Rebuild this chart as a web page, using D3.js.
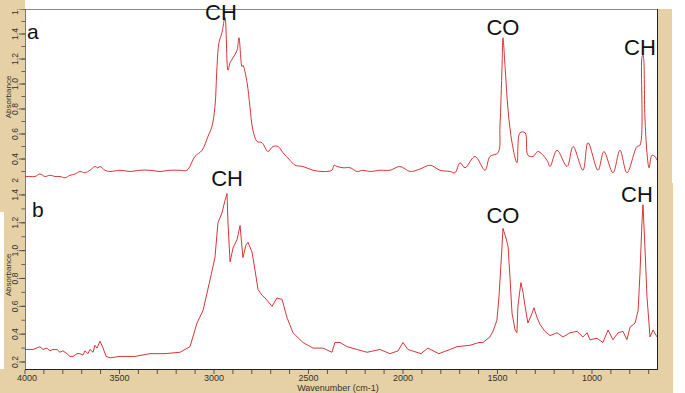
<!DOCTYPE html>
<html>
<head>
<meta charset="utf-8">
<script src="https://cdn.jsdelivr.net/npm/d3@7"></script>
<style>
html,body{margin:0;padding:0;background:#fff;}
svg{display:block;font-family:"Liberation Sans",Arial,sans-serif;}
</style>
</head>
<body>
<svg id="chart" width="685" height="393"></svg>
<script>
// ---- data (wavenumber cm-1, absorbance) ----
const wnA = [4000,3974,3947,3921,3894,3868,3841,3815,3788,3762,3735,3709,3683,3656,3630,3614,3603,3577,3550,3497,3444,3392,3339,3286,3233,3180,3143,3101,3063,3032,3011,2995,2984,2974,2958,2942,2926,2915,2899,2878,2868,2852,2847,2825,2810,2794,2772,2746,2714,2688,2661,2635,2598,2571,2529,2476,2423,2376,2365,2349,2317,2280,2243,2212,2175,2122,2069,2016,1962,1910,1857,1804,1751,1725,1698,1672,1619,1566,1540,1497,1487,1476,1471,1460,1444,1423,1397,1381,1354,1339,1312,1286,1238,1222,1185,1132,1100,1048,1021,968,937,889,852,815,762,746,735,730,720,709,698,683,667,656];
const absA = [0.26,0.26,0.26,0.28,0.26,0.27,0.26,0.26,0.25,0.27,0.28,0.30,0.29,0.31,0.34,0.33,0.34,0.31,0.30,0.31,0.30,0.31,0.31,0.30,0.31,0.31,0.31,0.42,0.47,0.58,0.66,0.82,1.14,1.33,1.41,1.53,1.11,1.17,1.21,1.27,1.37,1.14,1.15,1.01,0.82,0.63,0.54,0.53,0.46,0.50,0.50,0.45,0.39,0.35,0.34,0.31,0.30,0.31,0.35,0.34,0.33,0.33,0.30,0.31,0.30,0.31,0.31,0.34,0.30,0.32,0.35,0.31,0.30,0.29,0.37,0.33,0.42,0.31,0.42,0.45,0.66,1.14,1.37,1.14,0.79,0.53,0.37,0.61,0.61,0.43,0.42,0.46,0.39,0.34,0.47,0.34,0.50,0.31,0.53,0.31,0.46,0.29,0.47,0.29,0.50,0.51,1.22,1.23,0.74,0.45,0.33,0.43,0.42,0.39];

const wnB = [4000,3958,3921,3905,3884,3868,3852,3831,3815,3799,3778,3762,3746,3725,3709,3693,3683,3667,3656,3640,3630,3619,3603,3587,3571,3550,3497,3418,3339,3259,3180,3127,3090,3058,3021,2995,2979,2958,2942,2931,2926,2915,2899,2878,2862,2847,2831,2820,2799,2783,2767,2746,2730,2693,2667,2640,2614,2582,2529,2476,2423,2376,2360,2333,2296,2243,2190,2122,2069,2026,2000,1974,1905,1868,1810,1751,1714,1646,1598,1577,1540,1524,1503,1492,1476,1471,1455,1444,1434,1423,1407,1397,1392,1376,1365,1354,1339,1317,1307,1291,1275,1249,1222,1185,1153,1116,1079,1048,1026,1011,973,942,915,889,862,836,815,799,772,756,746,735,730,720,709,693,677,656];
const absB = [0.29,0.29,0.31,0.29,0.30,0.28,0.29,0.29,0.27,0.28,0.26,0.24,0.24,0.26,0.26,0.25,0.28,0.26,0.29,0.27,0.32,0.30,0.35,0.30,0.24,0.23,0.24,0.24,0.26,0.26,0.27,0.31,0.48,0.57,0.79,0.95,1.20,1.27,1.36,1.41,1.20,0.92,1.02,1.08,1.18,0.95,1.04,1.06,0.99,0.86,0.72,0.68,0.66,0.60,0.66,0.65,0.52,0.41,0.34,0.30,0.30,0.27,0.34,0.34,0.31,0.29,0.27,0.29,0.26,0.28,0.34,0.29,0.26,0.30,0.26,0.29,0.31,0.32,0.34,0.34,0.38,0.42,0.50,0.67,1.03,1.16,1.09,1.03,0.81,0.55,0.43,0.41,0.60,0.77,0.70,0.60,0.48,0.55,0.59,0.52,0.47,0.42,0.39,0.41,0.38,0.41,0.42,0.38,0.41,0.36,0.37,0.34,0.43,0.36,0.41,0.42,0.36,0.45,0.48,0.57,0.84,1.22,1.33,1.03,0.67,0.38,0.43,0.38];

const xMajorTicks = [4000,3500,3000,2500,2000,1500,1000];
const xMinorTicks = d3.range(4000, 650, -100);
const yMajorTicks = [0.2,0.4,0.6,0.8,1.0,1.2,1.4,1.6];
const yMinorTicks = d3.range(0.2, 1.65, 0.1);
const peakLabelsA = [{t:"CH", wn:2942, a:1.53}, {t:"CO", wn:1471, a:1.37}, {t:"CH", wn:730, a:1.23}];
const peakLabelsB = [{t:"CH", wn:2931, a:1.41}, {t:"CO", wn:1471, a:1.16}, {t:"CH", wn:730, a:1.33}];

// ---- layout ----
const TAN = "#e6d0a5";
const L = 25, R = 657;
const svg = d3.select("#chart");
const x = d3.scaleLinear().domain([4000, 656]).range([L, R]);
const yA = d3.scaleLinear().domain([0.2, 1.6]).range([184, 9]);
const yB = d3.scaleLinear().domain([0.2, 1.6]).range([362, 167.1]);

const defs = svg.append("defs");
defs.append("clipPath").attr("id","clipA").append("rect").attr("x",L).attr("y",9).attr("width",R-L).attr("height",174);
defs.append("clipPath").attr("id","clipAL").append("rect").attr("x",0).attr("y",9).attr("width",L).attr("height",174);
defs.append("clipPath").attr("id","clipB").append("rect").attr("x",L).attr("y",183).attr("width",R-L).attr("height",186);
defs.append("clipPath").attr("id","clipBL").append("rect").attr("x",0).attr("y",183).attr("width",L).attr("height",186);

svg.append("rect").attr("width",685).attr("height",393).attr("fill","#fff");

function drawPanel(g, wn, ab, y, clipPlot, clipLeft, curve, labels, panelLetter, letterPos, absY) {
  const data = wn.map((w,i)=>({w, a:ab[i]}));
  const line = d3.line().x(d=>x(d.w)).y(d=>y(d.a)).curve(curve);
  g.append("path").datum(data).attr("d", line).attr("fill","none")
    .attr("stroke","#d11f1f").attr("stroke-width",0.9).attr("stroke-linejoin","round")
    .attr("clip-path",`url(#${clipPlot})`);
  const lg = g.append("g").attr("clip-path",`url(#${clipLeft})`);
  lg.selectAll("line.mi").data(yMinorTicks).join("line")
    .attr("x1",L-3.5).attr("x2",L).attr("y1",d=>y(d)).attr("y2",d=>y(d))
    .attr("stroke","#444").attr("stroke-width",0.8);
  lg.selectAll("line.ma").data(yMajorTicks).join("line")
    .attr("x1",L-6).attr("x2",L).attr("y1",d=>y(d)).attr("y2",d=>y(d))
    .attr("stroke","#444").attr("stroke-width",0.8);
  lg.selectAll("text.tl").data(yMajorTicks).join("text")
    .attr("transform",d=>`translate(18,${y(d)}) rotate(-90)`)
    .attr("text-anchor","middle").attr("font-size",8.5).attr("fill","#333")
    .text(d=>d.toFixed(1));
  lg.append("text").attr("transform",`translate(11,${absY}) rotate(-90)`)
    .attr("text-anchor","middle").attr("font-size",8).attr("fill","#333").text("Absorbance");
  g.selectAll("text.pk").data(labels).join("text")
    .attr("x",d=>x(d.wn)+d.dx).attr("y",d=>y(d.a)+d.dy)
    .attr("text-anchor","middle").attr("font-size",22).attr("fill","#111").text(d=>d.t);
  g.append("text").attr("x",letterPos[0]).attr("y",letterPos[1]).attr("font-size",21).attr("fill","#111").text(panelLetter);
}

// Panel a
const gA = svg.append("g");
gA.append("rect").attr("x",0).attr("y",0).attr("width",L).attr("height",183).attr("fill",TAN);
gA.append("rect").attr("x",R).attr("y",9).attr("width",15).attr("height",174).attr("fill",TAN);
gA.append("line").attr("x1",L).attr("x2",R).attr("y1",9.5).attr("y2",9.5).attr("stroke","#888").attr("stroke-width",1);
gA.append("line").attr("x1",L+0.5).attr("x2",L+0.5).attr("y1",9).attr("y2",183).attr("stroke","#555").attr("stroke-width",0.8);
gA.append("line").attr("x1",R+0.5).attr("x2",R+0.5).attr("y1",9).attr("y2",183).attr("stroke","#222").attr("stroke-width",1);
peakLabelsA[0].dx=-4; peakLabelsA[0].dy=2.5;
peakLabelsA[1].dx=0; peakLabelsA[1].dy=-3;
peakLabelsA[2].dx=-3; peakLabelsA[2].dy=0;
drawPanel(gA, wnA, absA, yA, "clipA", "clipAL", d3.curveCatmullRom.alpha(0.5), peakLabelsA, "a", [27,39], 97);

// Panel b
const gB = svg.append("g");
gB.append("rect").attr("x",0).attr("y",183).attr("width",685).attr("height",210).attr("fill","#fff");
gB.append("rect").attr("x",0).attr("y",183).attr("width",L).attr("height",210).attr("fill",TAN);
gB.append("rect").attr("x",0).attr("y",212).attr("width",4).attr("height",168).attr("fill","#fff");
gB.append("rect").attr("x",0).attr("y",369).attr("width",673).attr("height",24).attr("fill",TAN);
gB.append("rect").attr("x",R).attr("y",183).attr("width",16).attr("height",210).attr("fill",TAN);
gB.append("line").attr("x1",L+0.5).attr("x2",L+0.5).attr("y1",183).attr("y2",369).attr("stroke","#555").attr("stroke-width",0.8);
gB.append("line").attr("x1",R+0.5).attr("x2",R+0.5).attr("y1",183).attr("y2",370).attr("stroke","#222").attr("stroke-width",1);
gB.append("line").attr("x1",L).attr("x2",R+1).attr("y1",369.5).attr("y2",369.5).attr("stroke","#222").attr("stroke-width",1);
peakLabelsB[0].dx=0; peakLabelsB[0].dy=-8;
peakLabelsB[1].dx=0; peakLabelsB[1].dy=-5;
peakLabelsB[2].dx=-6; peakLabelsB[2].dy=-3;
drawPanel(gB, wnB, absB, yB, "clipB", "clipBL", d3.curveLinear, peakLabelsB, "b", [32,217], 275);

// x axis ticks
gB.selectAll("line.xt").data(xMinorTicks).join("line")
  .attr("x1",d=>x(d)).attr("x2",d=>x(d)).attr("y1",370).attr("y2",374)
  .attr("stroke","#333").attr("stroke-width",0.8);
gB.selectAll("text.xl").data(xMajorTicks).join("text")
  .attr("x",d=>x(d)+(d===4000?2:0)).attr("y",381)
  .attr("text-anchor","middle").attr("font-size",9).attr("fill","#333").text(d=>d);
gB.append("text").attr("x",338).attr("y",391).attr("text-anchor","middle")
  .attr("font-size",9).attr("fill","#333").text("Wavenumber (cm-1)");
</script>
</body>
</html>
